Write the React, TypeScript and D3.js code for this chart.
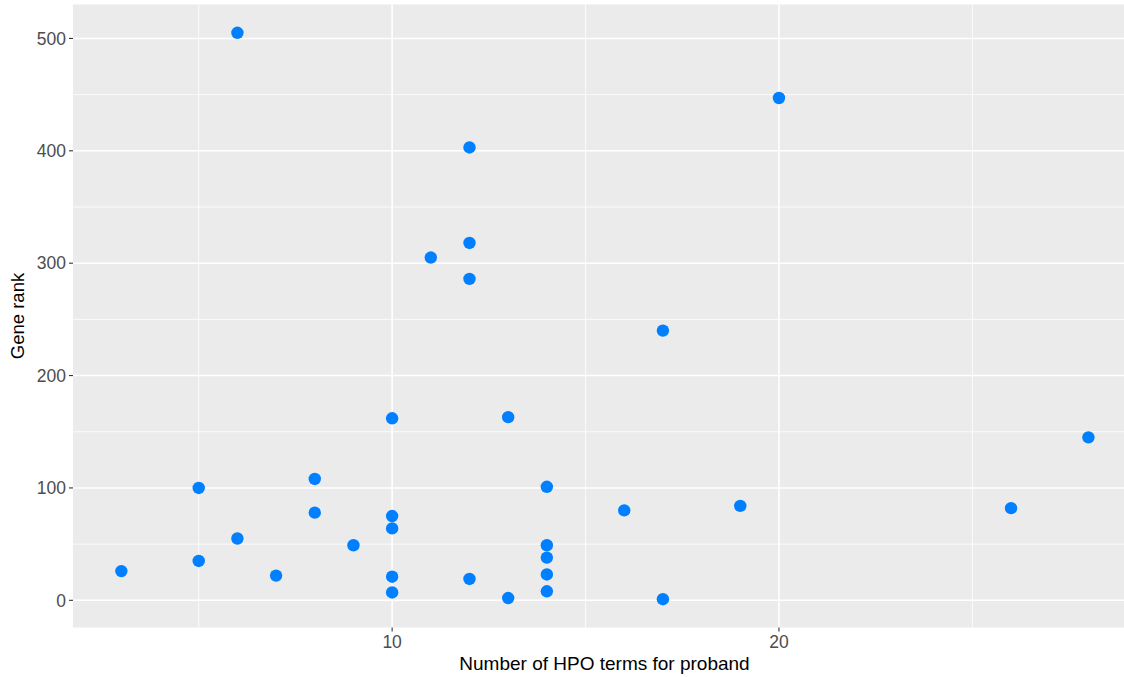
import React from "react";
import * as d3 from "d3";

const hpoTerms = [3, 5, 5, 6, 6, 7, 8, 8, 9, 10, 10, 10, 10, 10, 11, 12, 12, 12, 12, 13, 13, 14, 14, 14, 14, 14, 16, 17, 17, 19, 20, 26, 28];
const geneRank = [26, 100, 35, 505, 55, 22, 108, 78, 49, 162, 75, 64, 21, 7, 305, 403, 318, 286, 19, 163, 2, 101, 49, 38, 23, 8, 80, 240, 1, 84, 447, 82, 145];
const xMajor = [10, 20];
const xMinor = [5, 15, 25];
const yMajor = [0, 100, 200, 300, 400, 500];
const yMinor = [50, 150, 250, 350, 450];

const W = 1124;
const H = 677;
const left = 73;
const right = 1124;
const top = 4.5;
const bottom = 627.5;

export default function App() {
  const x = d3.scaleLinear().domain([1.75, 28.92]).range([left, right]);
  const y = d3.scaleLinear().domain([-24.2, 530.2]).range([bottom, top]);
  const font = "'Liberation Sans', Arial, Helvetica, sans-serif";
  return (
    <svg width={W} height={H} style={{ position: "absolute", left: 0, top: 0 }} fontFamily={font}>
      <rect x={0} y={0} width={W} height={H} fill="#fff" />
      <rect x={left} y={top} width={right - left} height={bottom - top} fill="#EBEBEB" />
      {yMinor.map((v) => (
        <line key={"ym" + v} x1={left} x2={right} y1={y(v)} y2={y(v)} stroke="#fff" strokeWidth={0.8} />
      ))}
      {xMinor.map((v) => (
        <line key={"xm" + v} x1={x(v)} x2={x(v)} y1={top} y2={bottom} stroke="#fff" strokeWidth={0.8} />
      ))}
      {yMajor.map((v) => (
        <line key={"yM" + v} x1={left} x2={right} y1={y(v)} y2={y(v)} stroke="#fff" strokeWidth={1.6} />
      ))}
      {xMajor.map((v) => (
        <line key={"xM" + v} x1={x(v)} x2={x(v)} y1={top} y2={bottom} stroke="#fff" strokeWidth={1.6} />
      ))}
      {hpoTerms.map((t, i) => (
        <circle key={i} cx={x(t)} cy={y(geneRank[i])} r={6.2} fill="#0080FF" />
      ))}
      {yMajor.map((v) => (
        <g key={"yt" + v}>
          <line x1={left - 4} x2={left} y1={y(v)} y2={y(v)} stroke="#333" strokeWidth={1.1} />
          <text x={left - 7} y={y(v)} dy="0.36em" textAnchor="end" fontSize={17.5} fill="#4D4D4D">{v}</text>
        </g>
      ))}
      {xMajor.map((v) => (
        <g key={"xt" + v}>
          <line x1={x(v)} x2={x(v)} y1={bottom} y2={bottom + 4} stroke="#333" strokeWidth={1.1} />
          <text x={x(v)} y={bottom + 20} textAnchor="middle" fontSize={17.5} fill="#4D4D4D">{v}</text>
        </g>
      ))}
      <text x={(left + right) / 2 + 6} y={670} textAnchor="middle" fontSize={19} fill="#000">Number of HPO terms for proband</text>
      <text transform={`translate(24, ${(top + bottom) / 2}) rotate(-90)`} textAnchor="middle" fontSize={18.5} fill="#000">Gene rank</text>
    </svg>
  );
}
